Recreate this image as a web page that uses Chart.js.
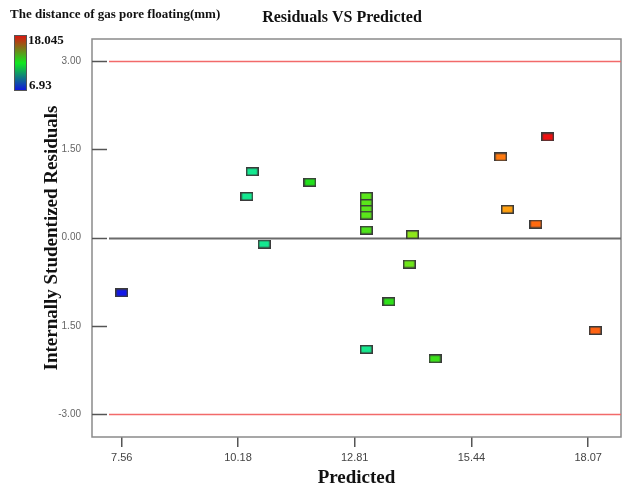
<!DOCTYPE html>
<html>
<head>
<meta charset="utf-8">
<script src="https://cdn.jsdelivr.net/npm/chart.js@4.4.0/dist/chart.umd.min.js"></script>
<style>
  body { margin: 0; background: #fff; }
  #wrap { position: relative; width: 622px; height: 491px; }
</style>
</head>
<body>
<div id="wrap"><canvas id="myChart" width="622" height="491"></canvas></div>
<script>
// data
const predicted = [7.56, 10.38, 10.50, 10.77, 11.80, 13.07, 13.07, 13.07, 13.07, 13.07, 13.07, 14.11, 14.04, 13.58, 14.62, 16.10, 17.16, 16.25, 16.89, 18.23];
const residuals = [-0.94, 0.70, 1.12, -0.11, 0.94, 0.70, 0.58, 0.48, 0.38, 0.125, -1.90, 0.05, -0.45, -1.09, -2.06, 1.37, 1.71, 0.48, 0.23, -1.58];
const pointColors = ["#1218e8", "#14e890", "#14e890", "#14e890", "#22e01c", "#5ae61a", "#5ae61a", "#5ae61a", "#5ae61a", "#4ee41a", "#16e88e", "#8ee61a", "#6ee61a", "#2ee01a", "#3ce01a", "#ff7a10", "#ee1010", "#ffa010", "#ff6a10", "#ff6414"];

const xTicks = [7.56, 10.18, 12.81, 15.44, 18.07];
const yTickValues = [-3, -1.5, 0, 1.5, 3];
const yTickLabels = ["-3.00", "1.50", "0.00", "1.50", "3.00"];
const limitLines = [3, -3];

const colorMin = "6.93";
const colorMax = "18.045";

function makeRect(color) {
  const c = document.createElement("canvas");
  c.width = 13;
  c.height = 9;
  const g = c.getContext("2d");
  g.fillStyle = "#3a3a3a";
  g.fillRect(0, 0, 13, 9);
  g.fillStyle = color;
  g.fillRect(1.5, 1.5, 10, 6);
  return c;
}

const puntos = predicted.map((p, i) => ({ x: p, y: residuals[i] }));
const estilos = pointColors.map((c) => makeRect(c));

// lineas, bordes, ticks internos, titulo y barra de color
const extras = {
  id: "extras",
  beforeDatasetsDraw(chart) {
    const { ctx, chartArea } = chart;
    const ys = chart.scales.y;
    ctx.save();
    ctx.strokeStyle = "#8a8a8a";
    ctx.lineWidth = 1.5;
    ctx.strokeRect(chartArea.left, chartArea.top, chartArea.right - chartArea.left, chartArea.bottom - chartArea.top);

    limitLines.forEach((v) => {
      const y = Math.round(ys.getPixelForValue(v)) + 0.5;
      ctx.strokeStyle = "#f26a6a";
      ctx.lineWidth = 1.5;
      ctx.beginPath();
      ctx.moveTo(chartArea.left + 17, y);
      ctx.lineTo(chartArea.right, y);
      ctx.stroke();
    });

    const y0 = Math.round(ys.getPixelForValue(0)) + 0.5;
    ctx.strokeStyle = "#6b6b6b";
    ctx.lineWidth = 2;
    ctx.beginPath();
    ctx.moveTo(chartArea.left + 17, y0);
    ctx.lineTo(chartArea.right, y0);
    ctx.stroke();

    ctx.strokeStyle = "#555";
    ctx.lineWidth = 1.5;
    yTickValues.forEach((v) => {
      const y = Math.round(ys.getPixelForValue(v)) + 0.5;
      ctx.beginPath();
      ctx.moveTo(chartArea.left, y);
      ctx.lineTo(chartArea.left + 15, y);
      ctx.stroke();
    });
    ctx.restore();
  },
  afterDraw(chart) {
    const ctx = chart.ctx;
    ctx.save();
    ctx.fillStyle = "#111";
    ctx.textBaseline = "middle";
    ctx.font = "bold 16px 'Liberation Serif', 'Times New Roman', serif";
    ctx.textAlign = "center";
    ctx.fillText("Residuals VS Predicted", 342, 18);

    ctx.font = "bold 13px 'Liberation Serif', 'Times New Roman', serif";
    ctx.textAlign = "left";
    ctx.fillText("The distance of gas pore floating(mm)", 10, 15);

    const grad = ctx.createLinearGradient(0, 35, 0, 91);
    grad.addColorStop(0, "#e01010");
    grad.addColorStop(0.5, "#10e820");
    grad.addColorStop(1, "#1010e0");
    ctx.fillStyle = grad;
    ctx.fillRect(14, 35, 13, 56);
    ctx.strokeStyle = "#555";
    ctx.lineWidth = 1;
    ctx.strokeRect(14.5, 35.5, 12, 55);

    ctx.fillStyle = "#111";
    ctx.font = "bold 13px 'Liberation Serif', 'Times New Roman', serif";
    ctx.fillText(colorMax, 28, 41);
    ctx.fillText(colorMin, 29, 86);
    ctx.restore();
  },
};

const ctx = document.getElementById("myChart");
window.myChart = new Chart(ctx, {
  type: "scatter",
  data: {
    datasets: [
      {
        data: puntos,
        pointStyle: estilos,
        pointRadius: 6,
        pointHoverRadius: 6,
      },
    ],
  },
  options: {
    responsive: false,
    animation: false,
    devicePixelRatio: 1,
    layout: { autoPadding: false, padding: { top: 39, right: 1, left: 0, bottom: 0 } },
    plugins: { legend: { display: false }, tooltip: { enabled: false } },
    scales: {
      x: {
        type: "linear",
        min: 6.89,
        max: 18.81,
        afterBuildTicks: (scale) => {
          scale.ticks = xTicks.map((v) => ({ value: v }));
        },
        afterFit: (scale) => {
          scale.height = 54;
          scale.paddingLeft = 0;
          scale.paddingRight = 0;
        },
        ticks: {
          callback: (v) => v.toFixed(2),
          color: "#444",
          font: { family: "Arial, 'Liberation Sans', sans-serif", size: 11 },
          padding: 4,
          maxRotation: 0,
        },
        grid: { drawOnChartArea: false, tickLength: 10, color: "#555", tickWidth: 1.5, lineWidth: 1.5 },
        border: { display: false },
        title: {
          display: true,
          text: "Predicted",
          color: "#111",
          font: { family: "'Liberation Serif', 'Times New Roman', serif", size: 19, weight: "bold" },
          padding: { top: 0, bottom: 2 },
        },
      },
      y: {
        type: "linear",
        min: -3.39,
        max: 3.375,
        afterBuildTicks: (scale) => {
          scale.ticks = yTickValues.map((v) => ({ value: v }));
        },
        afterFit: (scale) => {
          scale.width = 92;
          scale.paddingTop = 0;
          scale.paddingBottom = 0;
        },
        ticks: {
          callback: (v) => yTickLabels[yTickValues.indexOf(v)],
          color: "#666",
          font: { family: "Arial, 'Liberation Sans', sans-serif", size: 10 },
          padding: 11,
        },
        grid: { display: false, drawTicks: false },
        border: { display: false },
        title: {
          display: true,
          text: "Internally Studentized Residuals",
          color: "#111",
          font: { family: "'Liberation Serif', 'Times New Roman', serif", size: 19, weight: "bold" },
          padding: { top: 41, bottom: 0 },
        },
      },
    },
  },
  plugins: [extras],
});
</script>
</body>
</html>
